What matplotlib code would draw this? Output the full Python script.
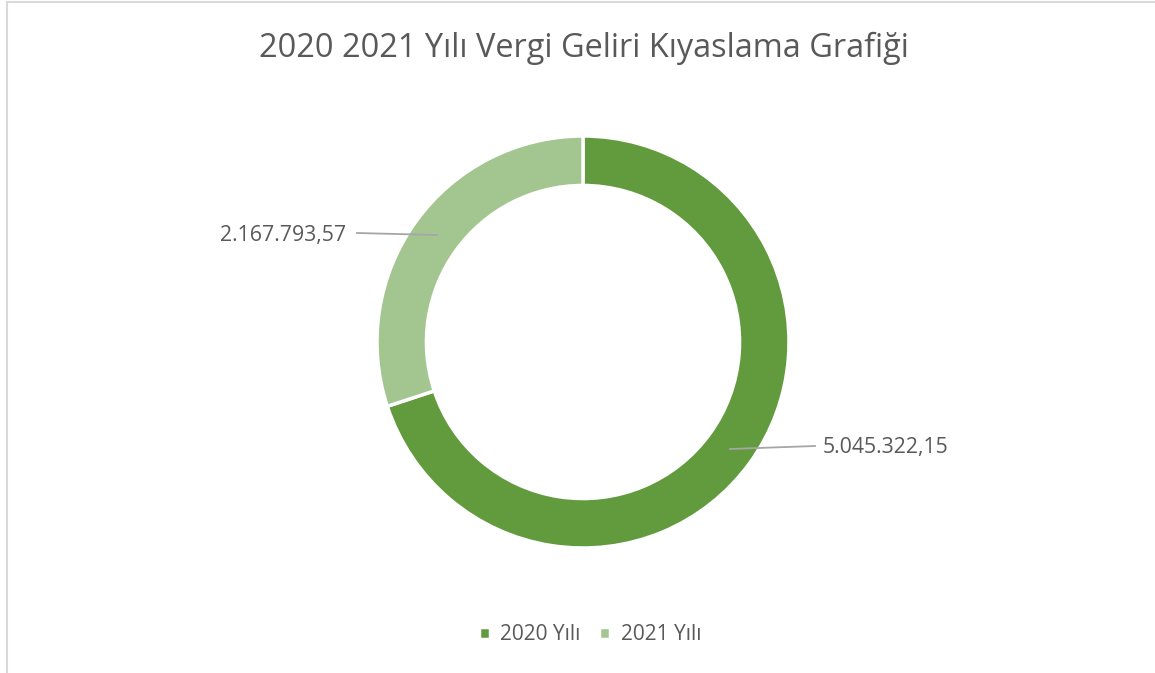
import matplotlib
matplotlib.use("Agg")
import matplotlib.pyplot as plt
from matplotlib.lines import Line2D

title = "2020 2021 Yılı Vergi Geliri Kıyaslama Grafiği"
categories = ["2020 Yılı", "2021 Yılı"]
values = [5045322.15, 2167793.57]
value_labels = ["5.045.322,15", "2.167.793,57"]
colors = ["#629B3D", "#A3C58F"]

plt.rcParams['font.family'] = ['Open Sans', 'DejaVu Sans']
txt = "#595959"

W, H = 1155, 673
fig = plt.figure(figsize=(W / 100, H / 100), dpi=100)
fig.patch.set_facecolor("white")

# chart border (left and top visible)
fig.add_artist(Line2D([6.5 / W, 6.5 / W], [0, 1 - 1.5 / H], transform=fig.transFigure, color="#D9D9D9", lw=1.5))
fig.add_artist(Line2D([6.5 / W, 1], [1 - 1.5 / H, 1 - 1.5 / H], transform=fig.transFigure, color="#D9D9D9", lw=1.5))

fig.text(584 / W, 1 - 48 / H, title, ha="center", va="center", fontsize=23.4, color=txt)

cx, cy, R = 583, 342, 206
ax = fig.add_axes([(cx - R) / W, 1 - (cy + R) / H, 2 * R / W, 2 * R / H])
wedges, _ = ax.pie(values, colors=colors, startangle=90, counterclock=False,
                   radius=1.0, wedgeprops=dict(width=0.24, edgecolor="white", linewidth=2.5))
ax.set_xlim(-1, 1)
ax.set_ylim(-1, 1)
ax.set_aspect("equal")
ax.axis("off")

def px(x, y):
    return x / W, 1 - y / H

# 2020 label
x0, y0 = px(730, 449)
x1, y1 = px(815, 446)
fig.add_artist(Line2D([x0, x1], [y0, y1], transform=fig.transFigure, color="#A6A6A6", lw=1.3))
fig.text(*px(823, 447), value_labels[0], ha="left", va="center", fontsize=15.3, color=txt)
# 2021 label
x0, y0 = px(437, 235)
x1, y1 = px(357, 233)
fig.add_artist(Line2D([x0, x1], [y0, y1], transform=fig.transFigure, color="#A6A6A6", lw=1.3))
fig.text(*px(346, 236), value_labels[1], ha="right", va="center", fontsize=15.3, color=txt)

fig.legend(wedges, categories, loc="center", bbox_to_anchor=(590 / W, 1 - 635 / H),
           ncol=2, frameon=False, fontsize=15, labelcolor=txt, handlelength=0.55,
           handleheight=0.55, handletextpad=0.5, columnspacing=0.87)

fig.savefig("out.png", dpi=100)
